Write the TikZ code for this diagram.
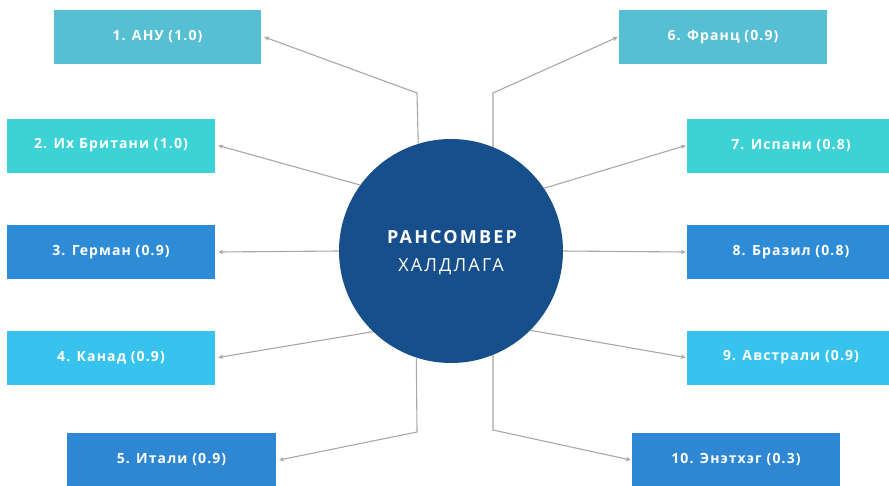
\documentclass[tikz,border=0pt]{standalone}
\usepackage{fontspec}
\setmainfont{Open Sans}
\newfontfamily\boxfont[LetterSpace=8]{Open Sans}
\newfontfamily\circfont[LetterSpace=12]{Open Sans}
\usetikzlibrary{arrows.meta}
\definecolor{cA}{HTML}{56BFD3}
\definecolor{cB}{HTML}{3DD3D6}
\definecolor{cC}{HTML}{2E8CD6}
\definecolor{cD}{HTML}{38C2EE}
\definecolor{cE}{HTML}{2E87D2}
\definecolor{circ}{HTML}{164F8C}
\definecolor{lin}{HTML}{A8A8A8}
\tikzset{
  box/.style={rectangle, minimum height=54pt, inner sep=0pt, text=white, font=\boxfont\fontsize{14}{16}\selectfont\bfseries},
  conn/.style={draw=lin, line width=1.1pt, -{Stealth[length=5pt,width=4.5pt]}}
}
\begin{document}
\begin{tikzpicture}[x=1pt,y=-1pt]
\useasboundingbox (0,0) rectangle (889,485);
\fill[white] (0,0) rectangle (889,485);
% boxes
\node[box, fill=cA, minimum width=207pt] (b1) at (157.5,37) {1. АНУ (1.0)};
\node[box, fill=cB, minimum width=208pt] (b2) at (111,145.5) {2. Их Британи (1.0)};
\node[box, fill=cC, minimum width=208pt] (b3) at (111,252) {3. Герман (0.9)};
\node[box, fill=cD, minimum width=208pt] (b4) at (111,357.5) {4. Канад (0.9)};
\node[box, fill=cE, minimum width=209pt] (b5) at (171.5,460) {5. Итали (0.9)};
\node[box, fill=cA, minimum width=208pt] (b6) at (723,37) {6. Франц (0.9)};
\node[box, fill=cB, minimum width=208pt] (b7) at (791,145.5) {7. Испани (0.8)};
\node[box, fill=cC, minimum width=208pt] (b8) at (791,252) {8. Бразил (0.8)};
\node[box, fill=cD, minimum width=208pt] (b9) at (791,357.5) {9. Австрали (0.9)};
\node[box, fill=cE, minimum width=208pt] (b10) at (736,460) {10. Энэтхэг (0.3)};
% circle
\node[circle, fill=circ, minimum size=224pt, inner sep=0pt] (c) at (451,251) {};
\node[text=white, font=\circfont\fontsize{18}{20}\selectfont\bfseries] (t1) at (452,237) {РАНСОМВЕР};
\node[text=white, font=\circfont\fontsize{18}{20}\selectfont] (t2) at (451,267) {ХАЛДЛАГА};
% connector corners
\coordinate (k1) at (417,93);
\coordinate (k5) at (417,432);
\coordinate (k6) at (493,93);
\coordinate (k10) at (493,430);
\draw[conn] (c.107.7) -- (k1) -- ([xshift=3pt]b1.east);
\draw[conn] (c.144.6) -- ([xshift=3pt]b2.east);
\draw[conn] (c.west) -- ([xshift=3pt]b3.east);
\draw[conn] (c.226.7) -- ([xshift=3pt]b4.east);
\draw[conn] (c.252.3) -- (k5) -- ([xshift=3pt]b5.east);
\draw[conn] (c.68) -- (k6) -- ([xshift=-1pt]b6.west);
\draw[conn] (c.34.5) -- ([xshift=-1pt]b7.west);
\draw[conn] (c.east) -- ([xshift=-1pt]b8.west);
\draw[conn] (c.-45.7) -- ([xshift=-1pt]b9.west);
\draw[conn] (c.-68) -- (k10) -- ([xshift=-1pt]b10.west);
\end{tikzpicture}
\end{document}
